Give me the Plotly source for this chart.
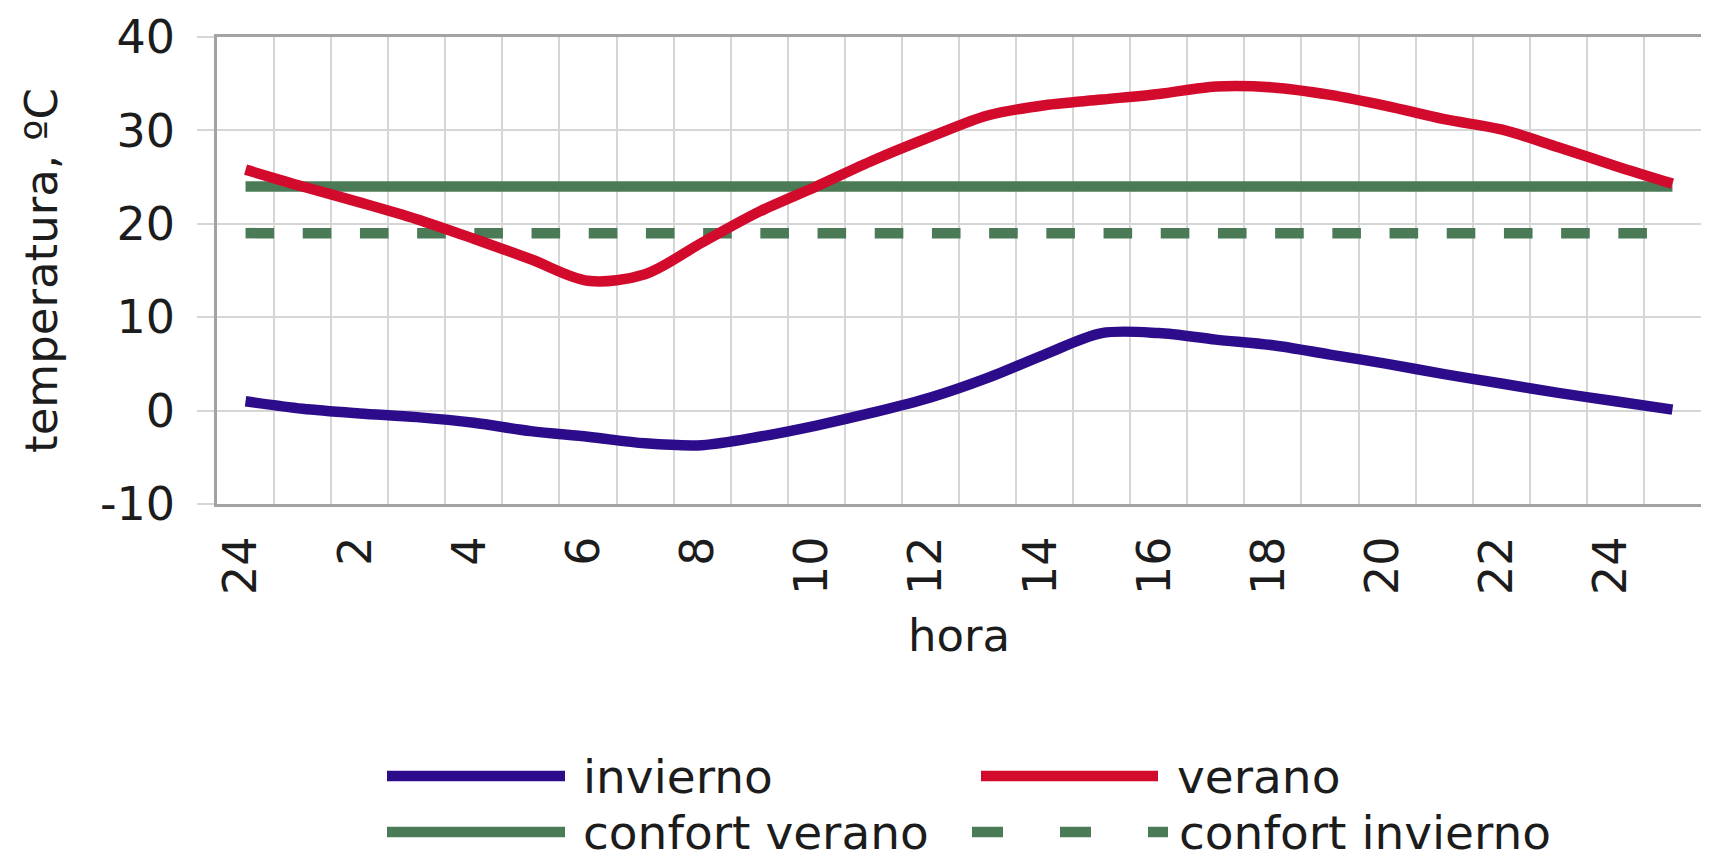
import plotly.graph_objects as go

# ---- data ----
hora = list(range(26))  # category index: 24(=0h), 1, 2, ... 24, 1
tick_pos = [0, 2, 4, 6, 8, 10, 12, 14, 16, 18, 20, 22, 24]
tick_txt = ["24", "2", "4", "6", "8", "10", "12", "14", "16", "18", "20", "22", "24"]
y_ticks = [-10, 0, 10, 20, 30, 40]
y_tick_txt = ["-10", "0", "10", "20", "30", "40"]

invierno = [1.0, 0.2, -0.3, -0.7, -1.3, -2.2, -2.8, -3.5, -3.7, -2.8, -1.6, -0.2, 1.4,
            3.5, 6.0, 8.3, 8.3, 7.6, 7.0, 6.0, 5.0, 3.9, 2.9, 1.9, 1.0, 0.1]
verano = [25.8, 24.0, 22.3, 20.5, 18.4, 16.2, 13.9, 14.6, 18.0, 21.3, 24.0, 26.8, 29.3,
          31.6, 32.7, 33.3, 33.9, 34.7, 34.6, 33.8, 32.6, 31.2, 30.1, 28.2, 26.2, 24.3]
confort_verano = [24] * 26
confort_invierno = [19] * 26

C_INV = "#2d0c8c"
C_VER = "#d20a2c"
C_CONF = "#4b7a57"
FONT = "DejaVu Sans"
TXT = "#1c1c1c"
GRID = "#d6d6d6"
DASH = "28.6px,28.6px"
DASH_LEG = "31px,57px"
LW = 10.5

fig = go.Figure()
fig.add_trace(go.Scatter(x=hora, y=confort_invierno, mode="lines", name="confort invierno",
                         line=dict(color=C_CONF, width=LW, dash=DASH), showlegend=False))
fig.add_trace(go.Scatter(x=hora, y=confort_verano, mode="lines", name="confort verano",
                         line=dict(color=C_CONF, width=LW), showlegend=False))
fig.add_trace(go.Scatter(x=hora, y=invierno, mode="lines", name="invierno",
                         line=dict(color=C_INV, width=LW, shape="spline", smoothing=0.9),
                         showlegend=False))
fig.add_trace(go.Scatter(x=hora, y=verano, mode="lines", name="verano",
                         line=dict(color=C_VER, width=LW, shape="spline", smoothing=0.9),
                         showlegend=False))

# page body has an 8px margin: figure coordinates = window coordinates - 8
W, H = 1693, 852
L, R, T, B = 209, 1693, 29, 496
pw, ph = R - L, B - T


def px2paper(px, py):
    return (px - L) / pw, (B - py) / ph


# custom legend (2 x 2), line samples as shapes, labels as text (figure px)
legend_items = [
    ("invierno", C_INV, None, 379, 557, 573, 768),
    ("verano", C_VER, None, 973, 1150, 1167, 768),
    ("confort verano", C_CONF, None, 379, 557, 573, 824),
    ("confort invierno", C_CONF, DASH_LEG, 964, 1160, 1169, 824),
]
shapes = []
annotations = []
for name, col, dash, sx0, sx1, tx, ty in legend_items:
    x0, y0 = px2paper(sx0, ty)
    x1, _ = px2paper(sx1, ty)
    ln = dict(color=col, width=LW)
    if dash:
        ln["dash"] = dash
    shapes.append(dict(type="line", xref="paper", yref="paper", x0=x0, x1=x1, y0=y0, y1=y0,
                       line=ln))
    ax, ay = px2paper(tx, ty)
    annotations.append(dict(text=name, xref="paper", yref="paper", x=ax, y=ay,
                            xanchor="left", yanchor="middle", showarrow=False,
                            font=dict(family=FONT, size=47, color=TXT)))

fig.update_layout(
    width=W, height=H,
    margin=dict(l=L, r=W - R, t=T, b=H - B, autoexpand=False),
    paper_bgcolor="white", plot_bgcolor="white",
    font=dict(family=FONT, size=46, color=TXT),
    shapes=shapes, annotations=annotations,
    showlegend=False,
)
fig.update_xaxes(
    range=[-0.5, 25.5], tickmode="array",
    tickvals=[p - 0.07 for p in tick_pos], ticktext=tick_txt,
    tickangle=-90, showgrid=False, ticks="", ticklabelstandoff=11,
    minor=dict(tick0=0.5, dtick=1, showgrid=True, gridcolor=GRID, gridwidth=1.5, ticks=""),
    showline=True, mirror=True, linecolor="#a3a3a3", linewidth=3,
    zeroline=False, automargin=False,
    title=dict(text="hora", standoff=26, font=dict(family=FONT, size=45, color=TXT)),
    tickfont=dict(family=FONT, size=46, color=TXT),
)
fig.update_yaxes(
    range=[-10, 40], tickmode="array", tickvals=y_ticks, ticktext=y_tick_txt,
    showgrid=True, gridcolor=GRID, gridwidth=1.5,
    ticks="outside", ticklen=17, tickcolor=GRID, tickwidth=1.5,
    ticklabelstandoff=13,
    showline=True, mirror=True, linecolor="#a3a3a3", linewidth=2.5,
    zeroline=False, automargin=False,
    title=dict(text="temperatura, ºC", standoff=29, font=dict(family=FONT, size=45, color=TXT)),
    tickfont=dict(family=FONT, size=46, color=TXT),
)

fig.write_html("out.html")
